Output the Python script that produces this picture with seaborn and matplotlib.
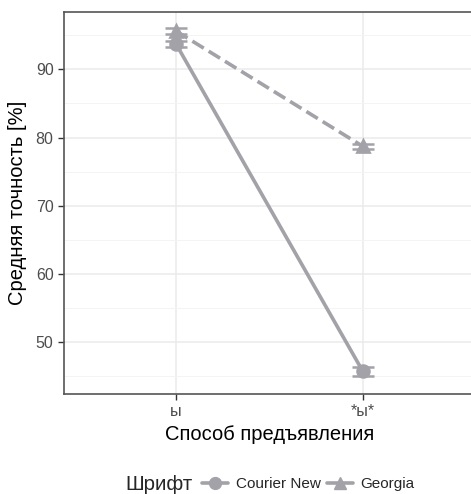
import pandas as pd
import seaborn as sns
import matplotlib.pyplot as plt
from matplotlib.lines import Line2D
from matplotlib.ticker import MultipleLocator

# data
conditions = ['ы', '*ы*']
fonts = ['Courier New', 'Georgia']
courier_mean = [93.7, 45.7]
courier_err = [0.5, 0.7]
georgia_mean = [95.6, 78.7]
georgia_err = [0.4, 0.4]

df = pd.DataFrame({
    'cond': conditions * 2,
    'font': [fonts[0]] * 2 + [fonts[1]] * 2,
    'mean': courier_mean + georgia_mean,
    'err': courier_err + georgia_err,
})

sns.set_style('white')
plt.rcParams['font.family'] = ['Liberation Sans', 'DejaVu Sans']

grey = '#a2a2a8'
fig = plt.figure(figsize=(4.71, 4.94), dpi=100)
ax = fig.add_axes([64 / 471, 100 / 494, 411 / 471, 382 / 494])

for i, f in enumerate(fonts):
    sub = df[df['font'] == f]
    ax.errorbar(range(len(conditions)), sub['mean'], yerr=sub['err'],
                fmt='none', ecolor=grey, elinewidth=1.6, capsize=8,
                capthick=1.8, zorder=1)

sns.pointplot(data=df, x='cond', y='mean', hue='font', order=conditions,
              hue_order=fonts, palette=[grey, grey], markers=['o', '^'],
              linestyles=['-', '--'], errorbar=None, legend=False, ax=ax,
              markersize=8.5, linewidth=2.6)

ax.set_xlim(-0.6, 1.6)
ax.set_ylim(42.4, 98.4)
ax.yaxis.set_major_locator(MultipleLocator(10))
ax.yaxis.set_minor_locator(MultipleLocator(5))
ax.grid(True, which='major', color='#ebebeb', lw=1.1, zorder=0)
ax.grid(True, which='minor', axis='y', color='#f3f3f3', lw=0.6, zorder=0)
ax.set_axisbelow(True)
for s in ax.spines.values():
    s.set_color('#555555')
    s.set_linewidth(1.2)

ax.tick_params(axis='both', which='major', length=4, color='#333333',
               labelsize=11.5, labelcolor='#4d4d4d', width=1, left=True, bottom=True)
ax.tick_params(axis='y', which='minor', length=0)
ax.set_xlabel('Способ предъявления', fontsize=14.5, color='black', labelpad=4)
ax.set_ylabel('Средняя точность [%]', fontsize=14.5, color='black', labelpad=6)

# legend at the bottom, title on the left
fig.text(125 / 471, 1 - 484 / 494, 'Шрифт', fontsize=14.8, va='center', ha='left')
handles = [Line2D([], [], color=grey, lw=2.6, marker='o', markersize=8.5),
           Line2D([], [], color=grey, lw=2.6, marker='^', markersize=8.5)]
fig.legend(handles, fonts, loc='center left', bbox_to_anchor=(202 / 471, 1 - 484 / 494),
           ncol=2, frameon=False, fontsize=11, handlelength=1.7,
           handletextpad=0.5, columnspacing=0.4, borderpad=0, borderaxespad=0)

fig.savefig('out.png', dpi=100)
